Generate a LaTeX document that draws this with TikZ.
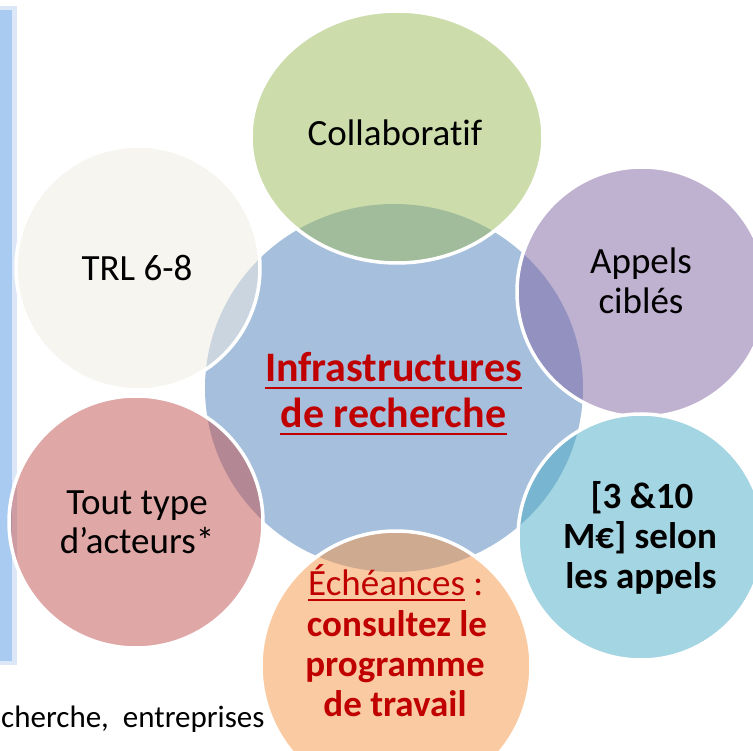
\documentclass[tikz,border=0pt]{standalone}
\usepackage{fontspec}
\setmainfont{Carlito}[Ligatures={NoCommon}]
\usetikzlibrary{shapes.geometric}
\definecolor{cblue}{HTML}{4F81BD}
\definecolor{cgreen}{HTML}{9BBB59}
\definecolor{cpurple}{HTML}{8064A2}
\definecolor{caqua}{HTML}{4BACC6}
\definecolor{corange}{HTML}{F79646}
\definecolor{cred}{HTML}{C0504D}
\definecolor{cbeige}{HTML}{EEECE1}
\definecolor{dred}{HTML}{C00000}
\definecolor{barblue}{HTML}{A9CAF1}
\definecolor{barhalo}{HTML}{DCE8F8}
\tikzset{
  bubble/.style={ellipse, inner sep=0, draw=white, line width=3.5, fill opacity=0.5},
  lbl/.style={inner sep=0, anchor=base, font=\fontsize{37}{40}\selectfont},
  lblb/.style={lbl, font=\fontsize{37}{40}\selectfont\bfseries},
  lblr/.style={lblb, text=dred},
  ctr/.style={inner sep=0, anchor=base, text=dred, font=\fontsize{42}{46}\selectfont\bfseries},
  uline/.style={line width=2.6, dred},
}
\begin{document}
\begin{tikzpicture}[x=1pt,y=-1pt]
\useasboundingbox (0,0) rectangle (753,751);
\fill[white] (0,0) rectangle (753,751);
% left bar
\fill[barhalo] (0,6) rectangle (17,665);
\fill[barblue] (0,10) rectangle (12,661);
% central shape
\node[ellipse, inner sep=0, fill=cblue, fill opacity=0.5, minimum width=378, minimum height=368] (core) at (394,388) {};
% bubbles
\node[bubble, fill=cgreen, minimum width=292, minimum height=252] (collab) at (397,137) {};
\node[bubble, fill=cpurple, minimum width=250, minimum height=250] (appels) at (642,292) {};
\node[bubble, fill=caqua, minimum width=246, minimum height=246] (budget) at (641,537) {};
\node[bubble, fill=corange, minimum width=270, minimum height=270] (echeance) at (396,666) {};
\node[bubble, fill=cred, minimum width=254, minimum height=252] (acteurs) at (136,522) {};
\node[bubble, fill=cbeige, minimum width=244, minimum height=244] (trl) at (138,268) {};
% texts
\node[lbl] (tcollab) at (395,146) {Collaboratif};
\node[lbl] (ttrl) at (137,281) {TRL 6-8};
\node[lbl] (tapp1) at (641,274) {Appels};
\node[lbl] (tapp2) at (641,314) {ciblés};
\node[lblb] (tbud1) at (642,508) {[3 \&10};
\node[lblb] (tbud2) at (640,548) {M€] selon};
\node[lblb] (tbud3) at (641,588) {les appels};
\node[lbl] (tact1) at (137,514) {Tout type};
\node[lbl] (tact2) at (137,553) {d’acteurs*};
\node[lbl, text=dred, anchor=base west] (tech1) at (308,595) {Échéances};
\node[lbl, text=dred, anchor=base west] (tcolon) at ([xshift=8]tech1.base east) {:};
\draw[dred, line width=1.4] ([yshift=-5]tech1.base west) -- ([yshift=-5]tech1.base east);
\node[lblr] (tech2) at (397,636) {consultez le};
\node[lblr] (tech3) at (395,676) {programme};
\node[lblr] (tech4) at (395,716) {de travail};
\node[ctr] (inf1) at (393.5,382) {Infrastructures};
\node[ctr] (inf2) at (393.5,428) {de recherche};
\draw[uline] ([yshift=-6]inf1.base west) -- ([yshift=-6]inf1.base east);
\draw[uline] ([yshift=-6]inf2.base west) -- ([yshift=-6]inf2.base east);
\node[inner sep=0, anchor=base west, font=\fontsize{31}{36}\selectfont] (tnote) at (1,727) {cherche,\hspace{0.45em}entreprises};
\end{tikzpicture}
\end{document}
